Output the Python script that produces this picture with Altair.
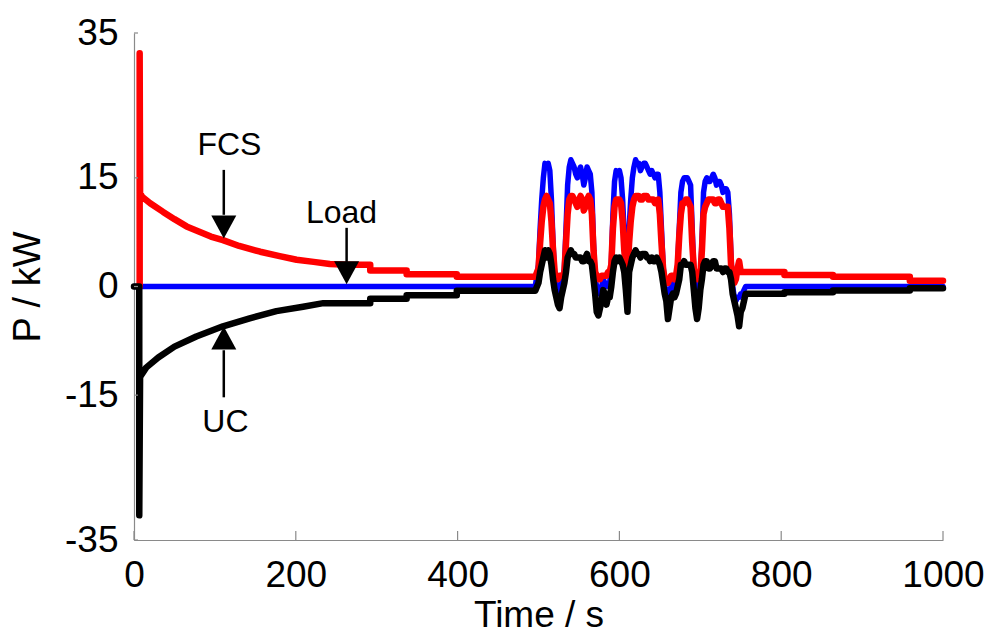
import altair as alt
import pandas as pd

# ---------------- data ----------------
# FCS (red) — start-up spike and decay
t_fcs_start = [7, 7, 7.5, 10, 20, 36, 50, 65, 80, 95, 110, 130, 156, 180, 201, 222, 242, 265,
               292, 292, 337, 337, 399, 399, 496]
p_fcs_start = [0, 32.2, 12.9, 12.4, 11.5, 10.3, 9.3, 8.3, 7.6, 6.9, 6.4, 5.6, 4.8, 4.2, 3.7, 3.4, 3.1, 3.0,
               3.0, 2.2, 2.2, 1.7, 1.7, 1.35, 1.35]

# UC (black) — start-up spike and decay
t_uc_start = [0, 6.5, 6.5, 7.5, 15, 30, 50, 77, 110, 143, 176, 209, 234, 265, 292, 292, 337, 337, 399, 399, 496]
p_uc_start = [0, 0, -31.6, -12.5, -11.2, -9.8, -8.3, -6.9, -5.5, -4.4, -3.4, -2.8, -2.3, -2.3, -2.3, -1.7,
              -1.7, -1.2, -1.2, -0.6, -0.6]

# Driving-cycle section (shared time base)
t_pulse = [500, 502, 504, 506, 508, 510, 512, 514, 516, 518, 520, 522, 524, 526, 528, 530, 532, 534,
           536, 538, 540, 542, 544, 546, 548, 550, 552, 554, 556, 558, 560, 562, 564, 566, 568, 570,
           572, 574, 576, 578, 580, 582, 584, 586, 588, 590, 592, 594, 596, 598, 600, 602, 604, 606,
           608, 610, 612, 614, 616, 618, 620, 622, 624, 626, 628, 630, 632, 634, 636, 638, 640, 642,
           644, 646, 648, 650, 652, 654, 656, 658, 660, 662, 664, 666, 668, 670, 672, 674, 676, 678,
           680, 682, 684, 686, 688, 690, 692, 694, 696, 698, 700, 702, 704, 706, 708, 710, 712, 714,
           716, 718, 720, 722, 724, 726, 728, 730, 732, 734, 736, 738, 740, 742, 744, 746, 748, 750,
           752, 754, 756, 758, 760]
p_load_pulse = [3, 8, 12, 15, 17, 16.5, 17, 16, 12, 6, 1.5, -0.5, -1, 0, 0.5, 1, 2.5, 8,
                14, 16.5, 17.5, 17, 16.5, 15.5, 15, 16, 16.5, 15.5, 14, 15, 16.5, 16, 15.5, 13, 6, 1,
                0, -1, -1, 0, 1, 0.5, 0, 0.5, 0.5, 3, 10, 14.5, 16, 15.5, 16, 15, 12, 7,
                3, 2, 8, 12, 15, 16.5, 17.5, 17, 17, 16, 16.5, 17, 17, 16.5, 16, 15.5, 16, 15.5,
                15, 15.5, 15.5, 13, 8, 3, 0, -0.5, -1, -0.5, 0, 0.5, -0.5, 0.5, 3, 8, 13, 14.5,
                15, 15, 15, 14.5, 14, 8, 2, 0, -1, 0, 1, 6, 13, 14.5, 15, 14.5, 14.5, 15,
                15.5, 15, 14, 14.5, 14.5, 14, 13, 13.5, 13.5, 13, 10, 4, 0, -1.5, -2, -1.5, -1.5, -1,
                -1, -0.5, 0, 0, 0]
p_fcs_pulse = [2.5, 6, 9, 11, 12, 12.5, 12, 11.5, 9, 5, 2, 1, 1, 1.5, 1.5, 1.5, 2, 6,
               10, 12, 12.5, 12.5, 12, 11.5, 11, 12, 12.5, 12, 10.5, 11, 12, 12.5, 12, 10, 5, 2,
               1.5, 1, 1, 1.5, 1.5, 1.5, 1.5, 2, 2, 3, 8, 11, 12, 12, 12, 11.5, 9, 5,
               2.5, 2, 6, 9, 11, 12, 12.5, 12.5, 12.5, 12, 12, 12.5, 12.5, 12.5, 12, 12, 12, 12,
               11.5, 11.5, 12, 10, 6, 2.5, 1, 0.5, 0.5, 1, 1.5, 1.5, 1, 1.5, 3, 7, 10, 11.5,
               11.5, 12, 12, 11.5, 11, 6, 2.5, 1.5, 1, 1, 1.5, 5, 10, 11, 11.5, 12, 12, 12,
               12, 11.5, 11.5, 12, 12, 11.5, 11, 11, 11, 11, 8, 3, 1, 0.5, 1, 2.5, 3.5, 2,
               2, 2, 2, 2, 2]
p_uc_pulse = [0.5, 2, 3, 4, 5, 4, 5, 4.5, 3, 1, -0.5, -1.5, -2.5, -3, -1.5, -0.5, 0.5, 2,
              4, 4.5, 5, 4.5, 4.5, 4, 4, 4, 4, 3.5, 3.5, 4, 4.5, 3.5, 3.5, 3, 1, -1,
              -3.5, -4, -3, -2, -0.5, -1, -2.5, -1.5, -1.5, 0, 2, 3.5, 4, 3.5, 4, 3.5, 3, 2,
              -0.5, -3.5, 2, 3, 4, 4.5, 5, 4.5, 4.5, 4, 4.5, 4.5, 4.5, 4, 4, 3.5, 4, 3.5,
              3.5, 4, 3.5, 3, 2, 0.5, -1, -2, -4.5, -3, -1.5, -1, -1.5, -1, 0, 1, 3, 3,
              3.5, 3, 3, 3, 3, 2, -0.5, -3, -4.5, -3, -0.5, 1, 3, 3.5, 3.5, 2.5, 2.5, 3,
              3.5, 3.5, 2.5, 2.5, 2.5, 2.5, 2, 2.5, 2.5, 2, 2, 1, -1, -2, -3, -4, -5.5, -3.5,
              -3, -2, -1.0, -1.0, -1.0]

# Tail after the driving cycle
t_tail = [764, 804, 804, 864, 864, 959, 959, 1000]
p_fcs_tail = [2.0, 2.0, 1.6, 1.6, 1.35, 1.35, 0.8, 0.8]
p_uc_tail = [-1.0, -1.0, -0.8, -0.8, -0.55, -0.55, -0.25, -0.25]

t_load_edges = [0, 496]
p_load_edges = [0, 0]
t_load_end = [764, 1000]
p_load_end = [0, 0]

# Axis ticks
x_ticks = [0, 200, 400, 600, 800, 1000]
y_ticks = [-35, -15, 0, 15, 35]

# Annotations (data coordinates)
ann_text = ["FCS", "Load", "UC"]
ann_t = [118, 256.5, 113]
ann_p = [18.2, 8.8, -20.1]
arrow_t = [111, 262.8, 111]
arrow_shaft_from = [16.1, 8.1, -15.3]
arrow_shaft_to = [9.9, 3.4, -8.8]
arrow_head_p = [8.2, 1.9, -7.1]
arrow_dir = ["down", "down", "up"]

# ---------------- build tables ----------------
def series(name, t, p):
    return pd.DataFrame({"t": t, "p": p, "series": name, "i": range(len(t))})

load_df = series("Load", t_load_edges + t_pulse + t_load_end, p_load_edges + p_load_pulse + p_load_end)
fcs_df = series("FCS", t_fcs_start + t_pulse + t_tail, p_fcs_start + p_fcs_pulse + p_fcs_tail)
uc_df = series("UC", t_uc_start + t_pulse + t_tail, p_uc_start + p_uc_pulse + p_uc_tail)

ann_df = pd.DataFrame({"label": ann_text, "t": ann_t, "p": ann_p})
arrow_df = pd.DataFrame({"t": arrow_t, "p1": arrow_shaft_from, "p2": arrow_shaft_to,
                         "ph": arrow_head_p, "dir": arrow_dir})

FONT = "Liberation Sans"
xscale = alt.Scale(domain=[0, 1000], nice=False, zero=False)
yscale = alt.Scale(domain=[-35, 35], nice=False, zero=False)

xenc = alt.X("t:Q", scale=xscale,
             axis=alt.Axis(values=x_ticks, title="Time / s", grid=False, ticks=False,
                           labelExpr="'' + datum.value",
                           labelFontSize=37, titleFontSize=37, labelPadding=17, titlePadding=4,
                           labelFont=FONT, titleFont=FONT, titleFontWeight="normal",
                           domainColor="#8a8a8a", domainWidth=1.2, labelColor="black",
                           titleColor="black", labelFlush=False))
yenc = alt.Y("p:Q", scale=yscale,
             axis=alt.Axis(values=y_ticks, title="P / kW", grid=False, ticks=False,
                           labelExpr="'' + datum.value",
                           labelFontSize=37, titleFontSize=38, labelPadding=16, titlePadding=17,
                           labelFont=FONT, titleFont=FONT, titleFontWeight="normal",
                           domainColor="#8a8a8a", domainWidth=1.2, labelColor="black",
                           titleColor="black", labelFlush=False))

def line(df, color, width):
    return alt.Chart(df).mark_line(color=color, strokeWidth=width, strokeJoin="round",
                                   strokeCap="round").encode(
        x=xenc, y=yenc, order="i:Q")

blue = line(load_df, "#0000ff", 5.5)
red = line(fcs_df, "#ff0000", 6.5)
black = line(uc_df, "#000000", 6.5)

# inward ticks
yt = alt.Chart(pd.DataFrame({"p": y_ticks})).mark_rule(color="#8a8a8a", strokeWidth=1.2).encode(
    y=alt.Y("p:Q", scale=yscale), x=alt.value(0), x2=alt.value(4))
xt = alt.Chart(pd.DataFrame({"t": x_ticks})).mark_rule(color="#8a8a8a", strokeWidth=1.2).encode(
    x=alt.X("t:Q", scale=xscale), y=alt.value(507), y2=alt.value(498))

shafts = alt.Chart(arrow_df).mark_rule(color="black", strokeWidth=2.5).encode(
    x=alt.X("t:Q", scale=xscale), y=alt.Y("p1:Q", scale=yscale), y2="p2:Q")
heads_down = alt.Chart(arrow_df).transform_filter("datum.dir == 'down'").mark_point(
    shape="M-1,-0.92L1,-0.92L0,0.92Z", size=625, filled=True, color="black", opacity=1,
    strokeWidth=0).encode(x=alt.X("t:Q", scale=xscale), y=alt.Y("ph:Q", scale=yscale))
heads_up = alt.Chart(arrow_df).transform_filter("datum.dir == 'up'").mark_point(
    shape="M-1,0.92L1,0.92L0,-0.92Z", size=625, filled=True, color="black", opacity=1,
    strokeWidth=0).encode(x=alt.X("t:Q", scale=xscale), y=alt.Y("ph:Q", scale=yscale))

labels = alt.Chart(ann_df).mark_text(font=FONT, fontSize=32, color="black", align="center",
                                     baseline="alphabetic").encode(
    x=alt.X("t:Q", scale=xscale), y=alt.Y("p:Q", scale=yscale), text="label:N")

chart = alt.layer(blue, red, black, yt, xt, shafts, heads_down, heads_up, labels).properties(
    width=809, height=507,
    padding={"left": 134, "top": 33, "right": 47, "bottom": 95},
    autosize=alt.AutoSizeParams(type="none"),
    background="white",
).configure_view(stroke=None)

chart.save("out.html", embed_options={"renderer": "svg", "actions": False})
